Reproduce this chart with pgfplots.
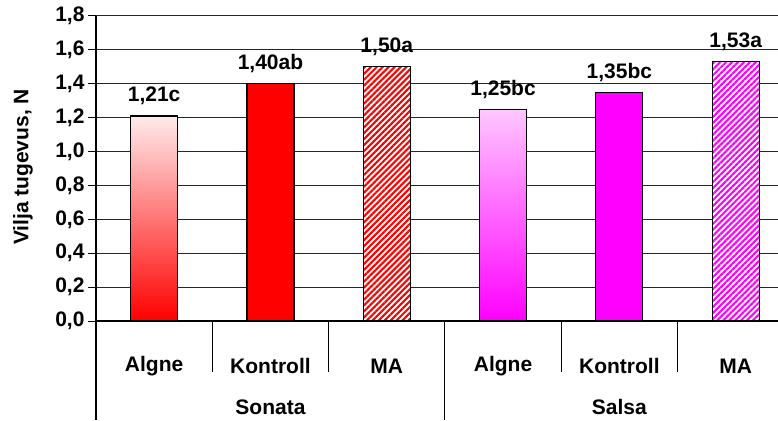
\documentclass[border=0pt]{standalone}
\usepackage{fontspec}
\setmainfont{Liberation Sans}
\usepackage{pgfplots}
\pgfplotsset{compat=1.18}
\usetikzlibrary{patterns.meta}
\definecolor{cRed}{RGB}{255,0,0}
\definecolor{cMag}{RGB}{255,0,255}
\begin{document}
\begin{tikzpicture}[font=\bfseries\fontsize{21}{25}\selectfont]
\useasboundingbox (0,0) rectangle (778pt,420pt);
\begin{axis}[
  at={(96pt,99pt)}, anchor=south west,
  scale only axis, width=682pt, height=305pt,
  xmin=-0.5, xmax=5.364, ymin=0, ymax=1.8,
  axis x line*=bottom, axis y line*=left,
  axis line style={line width=1.1pt, black},
  ytick={0,0.2,0.4,0.6,0.8,1.0,1.2,1.4,1.6,1.8},
  ymajorgrids, grid style={black!85, line width=1pt},
  y tick label style={/pgf/number format/.cd, fixed, fixed zerofill, precision=1, use comma, assume math mode=true},
  y tick style={line width=1pt, black},
  tick align=outside, major tick length=8pt,
  xtick={0,1,2,3,4,5},
  xticklabels={Algne,Kontroll,MA,Algne,Kontroll,MA},
  x tick style={draw=none},
  xticklabel style={anchor=center, yshift=-37pt},
  ybar, bar width=47pt, bar shift=0pt,
  nodes near coords, point meta=explicit symbolic,
  nodes near coords style={anchor=base, yshift=14pt, font=\bfseries\fontsize{21}{25}\selectfont},
  clip=false,
]
\addplot[draw=black, line width=1.2pt, top color=cRed!8, bottom color=cRed] coordinates {(0,1.21) [1,21c]};
\addplot[draw=black, line width=1.2pt, fill=cRed] coordinates {(1,1.40) [1,40ab]};
\addplot[draw=none, fill=white, forget plot] coordinates {(2,1.50) []};
\addplot[draw=black, line width=1.2pt,
  pattern={Lines[angle=45,distance=4.2pt,line width=2.1pt]}, pattern color=cRed] coordinates {(2,1.50) [1,50a]};
\addplot[draw=black, line width=1.2pt, top color=cMag!22, bottom color=cMag] coordinates {(3,1.25) [1,25bc]};
\addplot[draw=black, line width=1.2pt, fill=cMag] coordinates {(4,1.35) [1,35bc]};
\addplot[draw=none, fill=white, forget plot] coordinates {(5,1.53) []};
\addplot[draw=black, line width=1.2pt,
  pattern={Lines[angle=45,distance=4.2pt,line width=2.1pt]}, pattern color=cMag] coordinates {(5,1.53) [1,53a]};
\draw[line width=1pt] (axis cs:0.5,0) -- ++(0pt,-51pt);
\draw[line width=1pt] (axis cs:1.5,0) -- ++(0pt,-51pt);
\draw[line width=1pt] (axis cs:3.5,0) -- ++(0pt,-51pt);
\draw[line width=1pt] (axis cs:4.5,0) -- ++(0pt,-51pt);
\draw[line width=1pt] (axis cs:2.5,0) -- ++(0pt,-99pt);
\draw[line width=1.1pt] (axis cs:-0.5,0) -- ++(0pt,-99pt);
\node at (axis cs:1,0) [yshift=-86pt] {Sonata};
\node at (axis cs:4,0) [yshift=-86pt] {Salsa};
\end{axis}
\node[rotate=90] at (23pt,253pt) {Vilja tugevus, N};
\end{tikzpicture}
\end{document}
